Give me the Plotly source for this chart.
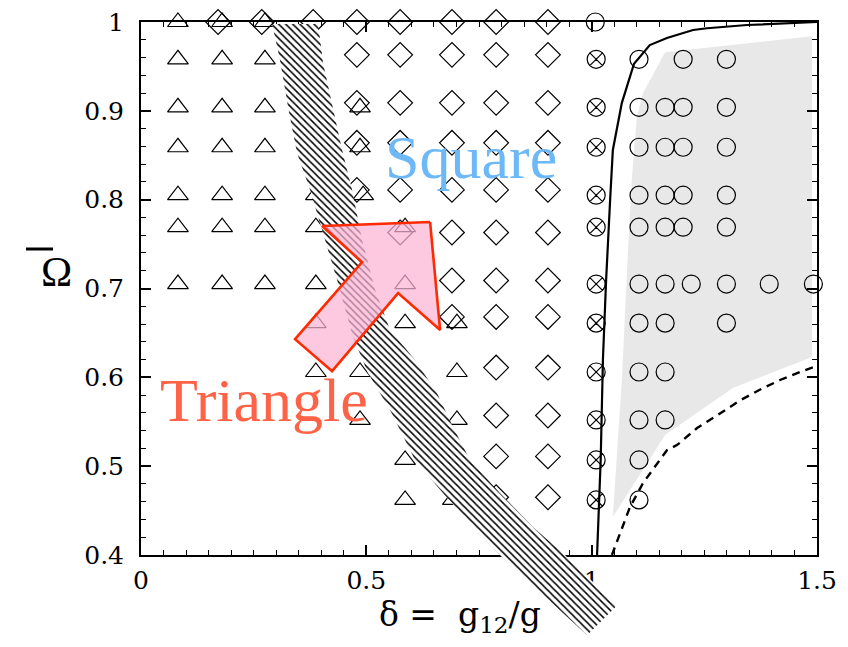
import plotly.graph_objects as go

# ---- canvas / plot-area geometry (pixels) ----
W, H = 848, 647
PX_L, PX_R, PX_T, PX_B = 141, 817, 22, 555
X_RANGE = [0.0, 1.5]
Y_RANGE = [0.4, 1.0]

# ---- phase-diagram sample points ----
# triangular lattice
tri_rows_y = [1.0, 0.958, 0.904, 0.859, 0.805, 0.769, 0.705, 0.661, 0.606, 0.552, 0.507, 0.462]
tri_rows_x = [
    [-0.013, 0.082, 0.180, 0.275],
    [-0.013, 0.082, 0.180, 0.275],
    [-0.013, 0.082, 0.180, 0.275, 0.486],
    [-0.013, 0.082, 0.180, 0.275, 0.486],
    [-0.013, 0.082, 0.180, 0.275, 0.388, 0.493],
    [-0.013, 0.082, 0.180, 0.275, 0.388, 0.586],
    [-0.013, 0.082, 0.180, 0.275, 0.388, 0.586],
    [0.388, 0.586, 0.701],
    [0.388, 0.486, 0.701],
    [0.486, 0.701],
    [0.586],
    [0.586, 0.692],
]
# square lattice
dia_rows_y = [1.0, 0.963, 0.909, 0.864, 0.811, 0.763, 0.709, 0.668, 0.611, 0.557, 0.511, 0.465]
dia_rows_x = [
    [0.171, 0.268, 0.382, 0.479, 0.575, 0.690, 0.788, 0.903],
    [0.479, 0.575, 0.690, 0.788, 0.903],
    [0.479, 0.575, 0.690, 0.788, 0.903],
    [0.479, 0.575, 0.690, 0.788, 0.903],
    [0.479, 0.575, 0.690, 0.788, 0.903],
    [0.575, 0.690, 0.788, 0.903],
    [0.690, 0.788, 0.903],
    [0.690, 0.788, 0.903],
    [0.788, 0.903],
    [0.788, 0.903],
    [0.788, 0.903],
    [0.788, 0.903],
]
# crossed circles (transition column)
cross_x = [1.010] * 11
cross_y = [0.958, 0.904, 0.859, 0.805, 0.769, 0.705, 0.661, 0.606, 0.552, 0.507, 0.462]
# phase-separated (open circles)
circ_rows_y = [1.0, 0.958, 0.904, 0.859, 0.805, 0.769, 0.705, 0.661, 0.606, 0.552, 0.507, 0.462]
circ_rows_x = [
    [1.008],
    [1.105, 1.203, 1.299],
    [1.105, 1.163, 1.203, 1.299],
    [1.105, 1.163, 1.203, 1.299],
    [1.105, 1.163, 1.203, 1.299],
    [1.105, 1.163, 1.203, 1.299],
    [1.105, 1.163, 1.221, 1.299, 1.394, 1.492],
    [1.105, 1.163, 1.299],
    [1.105, 1.163],
    [1.105, 1.163],
    [1.105],
    [1.105],
]

# ---- boundary curves ----
solid_x = [1.012, 1.020, 1.025, 1.032, 1.041, 1.047, 1.067, 1.094, 1.129, 1.167, 1.225, 1.256, 1.345, 1.447, 1.491, 1.5]
solid_y = [0.400, 0.507, 0.620, 0.709, 0.800, 0.856, 0.909, 0.953, 0.974, 0.982, 0.991, 0.993, 0.9966, 0.9989, 1.0, 1.0]
dash_x = [1.045, 1.067, 1.085, 1.114, 1.140, 1.167, 1.190, 1.234, 1.278, 1.329, 1.373, 1.418, 1.462, 1.5]
dash_y = [0.400, 0.431, 0.454, 0.481, 0.499, 0.518, 0.524, 0.543, 0.557, 0.574, 0.586, 0.597, 0.606, 0.613]

# shaded region
grey_x = [1.047, 1.067, 1.081, 1.089, 1.100, 1.114, 1.163, 1.489, 1.489, 1.313, 1.163, 1.047]
grey_y = [0.443, 0.597, 0.747, 0.822, 0.893, 0.920, 0.966, 0.984, 0.623, 0.588, 0.535, 0.443]

# hatched crossover band
band_x = [0.2908, 0.3085, 0.3263, 0.3463, 0.3751, 0.4040, 0.4351, 0.4706, 0.5039, 0.5527, 0.6082,
          0.6704, 0.7370, 0.8013, 0.9900,
          1.0566, 0.9412, 0.8701, 0.7969, 0.7303, 0.6926, 0.6570, 0.6082, 0.5527, 0.5194, 0.4906,
          0.4684, 0.4462, 0.4262, 0.4040, 0.3929, 0.2908]
band_y = [0.9977, 0.9572, 0.9043, 0.8525, 0.8108, 0.7624, 0.7095, 0.6453, 0.6047, 0.5631, 0.5068,
          0.4696, 0.4313, 0.3975, 0.3097,
          0.3435, 0.3998, 0.4313, 0.4696, 0.5068, 0.5439, 0.5822, 0.6194, 0.6532, 0.6982, 0.7545,
          0.8108, 0.8559, 0.9009, 0.9538, 0.9977, 0.9977]

# arrow from Triangle to Square
arrow_x = [0.6415, 0.4018, 0.4906, 0.3418, 0.4240, 0.5705, 0.6637, 0.6415]
arrow_y = [0.7748, 0.7703, 0.7297, 0.6430, 0.6070, 0.6948, 0.6532, 0.7748]


def flatten(rows_x, rows_y):
    xs, ys = [], []
    for rx, ry in zip(rows_x, rows_y):
        xs.extend(rx)
        ys.extend([ry] * len(rx))
    return xs, ys


tri_x, tri_y = flatten(tri_rows_x, tri_rows_y)
dia_x, dia_y = flatten(dia_rows_x, dia_rows_y)
circ_x, circ_y = flatten(circ_rows_x, circ_rows_y)

# full-canvas overlay axes sharing the main scale
xd = [PX_L / W, PX_R / W]
yd = [1 - PX_B / H, 1 - PX_T / H]
sx = (X_RANGE[1] - X_RANGE[0]) / (xd[1] - xd[0])
sy = (Y_RANGE[1] - Y_RANGE[0]) / (yd[1] - yd[0])
X2_RANGE = [X_RANGE[0] - xd[0] * sx, X_RANGE[1] + (1 - xd[1]) * sx]
Y2_RANGE = [Y_RANGE[0] - yd[0] * sy, Y_RANGE[1] + (1 - yd[1]) * sy]

SERIF = "Liberation Serif, Times New Roman, serif"
WIDE_SERIF = "DejaVu Serif, serif"

fig = go.Figure()

fig.add_trace(go.Scatter(x=grey_x, y=grey_y, mode="lines", fill="toself",
                         fillcolor="#e8e8e8", line=dict(width=0), hoverinfo="skip"))
fig.add_trace(go.Scatter(x=solid_x, y=solid_y, mode="lines",
                         line=dict(color="black", width=2.2)))
fig.add_trace(go.Scatter(x=dash_x, y=dash_y, mode="lines",
                         line=dict(color="black", width=2.4, dash="8px,6px")))

mk_line = dict(color="black", width=1.2)
fig.add_trace(go.Scatter(x=tri_x, y=tri_y, mode="markers", cliponaxis=False,
                         marker=dict(symbol="triangle-up-open", size=18, line=mk_line, color="black")))
fig.add_trace(go.Scatter(x=dia_x, y=dia_y, mode="markers", cliponaxis=False,
                         marker=dict(symbol="diamond-open", size=19, line=mk_line, color="black")))
fig.add_trace(go.Scatter(x=circ_x, y=circ_y, mode="markers", cliponaxis=False,
                         marker=dict(symbol="circle-open", size=18, line=mk_line, color="black")))
fig.add_trace(go.Scatter(x=cross_x, y=cross_y, mode="markers", cliponaxis=False,
                         marker=dict(symbol="circle-x-open", size=18, line=mk_line, color="black")))

# band and arrow live on the full-canvas axes so they may run past the frame
fig.add_trace(go.Scatter(x=band_x, y=band_y, xaxis="x2", yaxis="y2", mode="lines",
                         fill="toself", line=dict(width=0), fillcolor="white",
                         fillpattern=dict(shape="\\", size=5, solidity=0.3,
                                          fgcolor="black", bgcolor="white", fgopacity=1),
                         hoverinfo="skip"))
fig.add_trace(go.Scatter(x=arrow_x, y=arrow_y, xaxis="x2", yaxis="y2", mode="lines",
                         fill="toself", fillcolor="rgba(251,180,214,0.72)",
                         line=dict(color="#ff2a00", width=2.6), hoverinfo="skip"))

axis_common = dict(showline=True, linecolor="black", linewidth=2, mirror="allticks",
                   ticks="inside", ticklen=10, tickwidth=1.6, tickcolor="black",
                   showgrid=False, zeroline=False, automargin=False,
                   tickfont=dict(family=WIDE_SERIF, size=25, color="black"))

fig.update_layout(
    template="none",
    width=W, height=H,
    margin=dict(l=0, r=0, t=0, b=0, autoexpand=False),
    paper_bgcolor="white", plot_bgcolor="rgba(0,0,0,0)",
    showlegend=False,
    xaxis=dict(domain=xd, range=X_RANGE, tickvals=[0, 0.5, 1, 1.5],
               minor=dict(dtick=0.05, ticklen=5, tickwidth=1.2, ticks="inside", tickcolor="black"),
               ticklabelstandoff=2, **axis_common),
    yaxis=dict(domain=yd, range=Y_RANGE, dtick=0.1,
               minor=dict(dtick=0.02, ticklen=5, tickwidth=1.2, ticks="inside", tickcolor="black"),
               ticklabelstandoff=10, **axis_common),
    xaxis2=dict(domain=[0, 1], range=X2_RANGE, anchor="y2", visible=False, fixedrange=True,
                automargin=False),
    yaxis2=dict(domain=[0, 1], range=Y2_RANGE, anchor="x2", visible=False, fixedrange=True,
                automargin=False),
)

# region labels
fig.add_annotation(x=0.732, y=0.848, xref="x", yref="y", text="Square", showarrow=False,
                   font=dict(family=SERIF, size=62, color="#6db9f8"))
fig.add_annotation(x=0.273, y=0.5745, xref="x", yref="y", text="Triangle", showarrow=False,
                   font=dict(family=SERIF, size=62, color="#ff6347"))

# axis titles
fig.add_annotation(x=460 / W, y=1 - 640 / H, xref="paper", yref="paper",
                   text="δ =  g<sub>12</sub>/g", showarrow=False,
                   font=dict(family=WIDE_SERIF, size=33, color="black"))
fig.add_annotation(x=39 / W, y=1 - 272 / H, xref="paper", yref="paper",
                   text="Ω", showarrow=False,
                   font=dict(family=SERIF, size=42, color="black"))
fig.add_shape(type="line", xref="paper", yref="paper",
              x0=26 / W, x1=53 / W, y0=1 - 249 / H, y1=1 - 249 / H,
              line=dict(color="black", width=3))

fig.write_html("out.html")
